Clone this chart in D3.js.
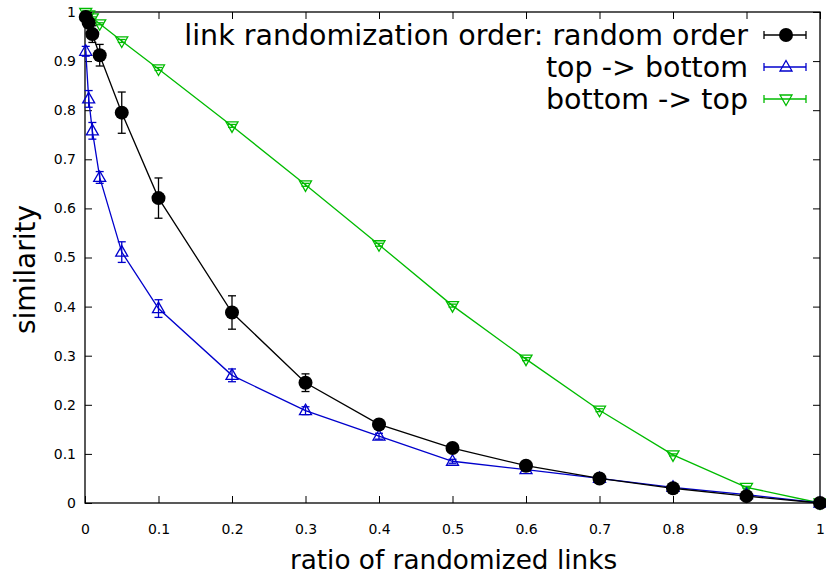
<!DOCTYPE html>
<html>
<head>
<meta charset="utf-8">
<script src="https://cdn.jsdelivr.net/npm/d3@7"></script>
<style>
  body { margin: 0; background: #fff; }
  text { font-family: "DejaVu Sans", sans-serif; fill: #000; }
</style>
</head>
<body>
<script>
// ratio of randomized links (x)
var ratios = [0.001, 0.005, 0.01, 0.02, 0.05, 0.1, 0.2, 0.3, 0.4, 0.5, 0.6, 0.7, 0.8, 0.9, 1.0];

// similarity per link randomization order, with error
var randomOrder    = [0.99, 0.978, 0.955, 0.912, 0.795, 0.621, 0.388, 0.245, 0.16, 0.112, 0.076, 0.05, 0.03, 0.014, 0.0];
var randomOrderErr = [0.005, 0.008, 0.017, 0.022, 0.042, 0.041, 0.034, 0.018, 0.01, 0.008, 0.005, 0.004, 0.003, 0.002, 0];
var topBottom      = [0.92, 0.823, 0.758, 0.663, 0.511, 0.396, 0.26, 0.188, 0.136, 0.085, 0.068, 0.05, 0.032, 0.017, 0.0];
var topBottomErr   = [0.01, 0.017, 0.017, 0.012, 0.021, 0.018, 0.013, 0.008, 0.006, 0.004, 0.003, 0.002, 0.002, 0.002, 0];
var bottomTop      = [0.999, 0.994, 0.988, 0.976, 0.941, 0.884, 0.768, 0.648, 0.526, 0.402, 0.293, 0.189, 0.098, 0.032, 0.0];
var bottomTopErr   = [0.001, 0.001, 0.002, 0.002, 0.003, 0.003, 0.003, 0.003, 0.003, 0.003, 0.003, 0.003, 0.002, 0.002, 0];

var xTicks = [0, 0.1, 0.2, 0.3, 0.4, 0.5, 0.6, 0.7, 0.8, 0.9, 1];
var yTicks = [0, 0.1, 0.2, 0.3, 0.4, 0.5, 0.6, 0.7, 0.8, 0.9, 1];

var series = [
  { label: 'link randomization order: random order', values: randomOrder, errs: randomOrderErr, color: '#000000', marker: 'circle' },
  { label: 'top -> bottom', values: topBottom, errs: topBottomErr, color: '#0000cc', marker: 'up' },
  { label: 'bottom -> top', values: bottomTop, errs: bottomTopErr, color: '#00bb00', marker: 'down' }
];

var W = 826, H = 574;
var margin = {top: 12, right: 6, bottom: 71, left: 85}
  , width = W - margin.left - margin.right
  , height = H - margin.top - margin.bottom;

var xScale = d3.scaleLinear().domain([0, 1]).range([0, width]);
var yScale = d3.scaleLinear().domain([0, 1]).range([height, 0]);

var svg = d3.select('body').append('svg')
  .attr('width', W)
  .attr('height', H)
  .append('g')
  .attr('transform', 'translate(' + margin.left + ',' + margin.top + ')');

var fmt = function(d) { return d === 0 ? '0' : d === 1 ? '1' : d3.format('.1f')(d); };

// axes with inward ticks on all four sides
var xBottom = svg.append('g').attr('transform', 'translate(0,' + height + ')')
  .call(d3.axisBottom(xScale).tickValues(xTicks).tickSize(-7).tickPadding(21).tickFormat(fmt));
var xTop = svg.append('g')
  .call(d3.axisTop(xScale).tickValues(xTicks).tickSize(-7).tickFormat(''));
var yLeft = svg.append('g')
  .call(d3.axisLeft(yScale).tickValues(yTicks).tickSize(-7).tickPadding(16).tickFormat(fmt));
var yRight = svg.append('g').attr('transform', 'translate(' + width + ',0)')
  .call(d3.axisRight(yScale).tickValues(yTicks).tickSize(-7).tickFormat(''));

[xBottom, xTop, yLeft, yRight].forEach(function(g) {
  g.select('.domain').remove();
  g.selectAll('line').attr('stroke', '#000').attr('stroke-width', 1);
  g.selectAll('text').attr('font-size', 14).attr('font-family', '"DejaVu Sans", sans-serif');
});
yLeft.selectAll('text').attr('dx', 7);

svg.append('rect')
  .attr('x', 0).attr('y', 0)
  .attr('width', width).attr('height', height)
  .attr('fill', 'none').attr('stroke', '#000').attr('stroke-width', 1.3);

// axis titles
svg.append('text')
  .attr('x', width / 2 + 1).attr('y', height + 66)
  .attr('text-anchor', 'middle').attr('font-size', 26.3)
  .text('ratio of randomized links');
svg.append('text')
  .attr('transform', 'translate(' + (-50) + ',' + (height / 2 + 12) + ') rotate(-90)')
  .attr('text-anchor', 'middle').attr('font-size', 28)
  .text('similarity');

function markerPath(type) {
  if (type === 'up') return 'M0,-6.5L6,4L-6,4Z';
  return 'M0,6.5L6,-4L-6,-4Z';
}

function drawMarker(g, type, color) {
  if (type === 'circle') {
    g.append('circle').attr('r', 7).attr('fill', color);
  } else {
    g.append('path').attr('d', markerPath(type))
      .attr('fill', 'none').attr('stroke', color).attr('stroke-width', 1.3);
  }
}

var line = d3.line()
  .x(function(d) { return xScale(d[0]); })
  .y(function(d) { return yScale(d[1]); });

// draw series in back-to-front order similar to the reference
[2, 1, 0].forEach(function(si) {
  var s = series[si];
  var pts = ratios.map(function(r, i) { return [r, s.values[i], s.errs[i]]; });
  var g = svg.append('g');

  g.append('path')
    .attr('d', line(pts))
    .attr('fill', 'none').attr('stroke', s.color).attr('stroke-width', 1.3);

  var eb = g.selectAll('.eb').data(pts).enter().append('g')
    .attr('stroke', s.color).attr('stroke-width', 1.3);
  eb.append('line')
    .attr('x1', function(d) { return xScale(d[0]); })
    .attr('x2', function(d) { return xScale(d[0]); })
    .attr('y1', function(d) { return yScale(d[1] - d[2]); })
    .attr('y2', function(d) { return yScale(d[1] + d[2]); });
  [-1, 1].forEach(function(sign) {
    eb.append('line')
      .attr('x1', function(d) { return xScale(d[0]) - 4; })
      .attr('x2', function(d) { return xScale(d[0]) + 4; })
      .attr('y1', function(d) { return yScale(d[1] + sign * d[2]); })
      .attr('y2', function(d) { return yScale(d[1] + sign * d[2]); });
  });

  pts.forEach(function(d) {
    var m = g.append('g').attr('transform', 'translate(' + xScale(d[0]) + ',' + yScale(d[1]) + ')');
    drawMarker(m, s.marker, s.color);
  });
});

// legend
var legend = svg.append('g').attr('transform', 'translate(' + (-margin.left) + ',' + (-margin.top) + ')');
series.forEach(function(s, i) {
  var y = 35 + i * 32;
  legend.append('text')
    .attr('x', 748).attr('y', y + 10)
    .attr('text-anchor', 'end').attr('font-size', 28.5)
    .text(s.label);
  var lg = legend.append('g').attr('stroke', s.color).attr('stroke-width', 1.3);
  lg.append('line').attr('x1', 764).attr('x2', 806).attr('y1', y).attr('y2', y);
  lg.append('line').attr('x1', 764).attr('x2', 764).attr('y1', y - 4).attr('y2', y + 4);
  lg.append('line').attr('x1', 806).attr('x2', 806).attr('y1', y - 4).attr('y2', y + 4);
  var m = legend.append('g').attr('transform', 'translate(786,' + y + ')');
  drawMarker(m, s.marker, s.color);
});
</script>
</body>
</html>
